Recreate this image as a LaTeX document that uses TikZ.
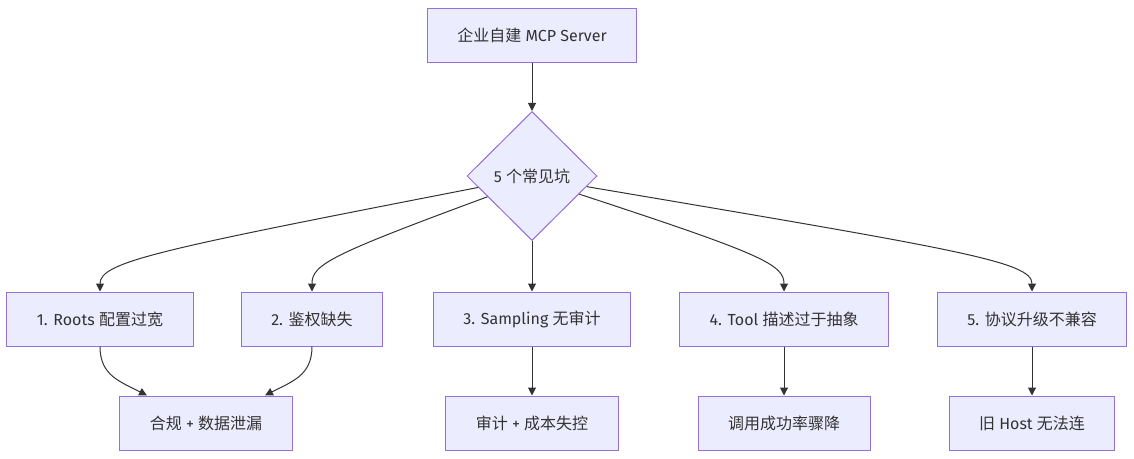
\documentclass[tikz,border=0pt]{standalone}
\usepackage{fontspec}
\setmainfont{Fira Sans}
\newfontfamily\cjk{Noto Sans CJK SC}
\usetikzlibrary{positioning, arrows.meta, shapes.geometric}
\definecolor{nodefill}{HTML}{ECECFF}
\definecolor{nodeline}{HTML}{9370DB}
\definecolor{edgeline}{HTML}{333333}

\begin{document}
\begin{tikzpicture}[x=1pt,y=-1pt,
  font=\fontsize{16}{19}\selectfont, text=edgeline,
  box/.style={draw=nodeline, fill=nodefill, line width=1pt, minimum height=54pt, inner xsep=30pt},
  pit/.style={diamond, draw=nodeline, fill=nodefill, line width=1pt, minimum width=130pt, minimum height=129pt, inner sep=0pt},
  link/.style={draw=edgeline, line width=1pt, -{Triangle[length=8pt,width=8pt]}}]
\useasboundingbox (0,0) rectangle (1134,458);
\node[box] (srv) at (532,35) {{\cjk 企业自建} MCP Server};
\node[pit] (dia) at (532,176) {5 {\cjk 个常见坑}};
\node[box] (b1) at (100,319) {1. Roots {\cjk 配置过宽}};
\node[box] (b2) at (312,319) {2. {\cjk 鉴权缺失}};
\node[box] (b3) at (532,319) {3. Sampling {\cjk 无审计}};
\node[box] (b4) at (784,319) {4. Tool {\cjk 描述过于抽象}};
\node[box] (b5) at (1032,319) {5. {\cjk 协议升级不兼容}};
\node[box] (c1) at (206,423) {{\cjk 合规} + {\cjk 数据泄漏}};
\node[box] (c2) at (532,423) {{\cjk 审计} + {\cjk 成本失控}};
\node[box] (c3) at (784,423) {\cjk 调用成功率骤降};
\node[box] (c4) at (1032,423) {{\cjk 旧} Host {\cjk 无法连}};
\draw[link] (srv) -- (dia);
\draw[link] (dia.192) .. controls +(-318,62) and +(0,-30) .. (b1.north);
\draw[link] (dia.205) .. controls +(-157,58) and +(0,-27) .. (b2.north);
\draw[link] (dia) -- (b3);
\draw[link] (dia.339) .. controls +(183,60) and +(0,-27) .. (b4.north);
\draw[link] (dia.349) .. controls +(372,63) and +(0,-30) .. (b5.north);
\draw[link] (b1.south) .. controls +(0,29) and +(-27,-14) .. ([xshift=-59pt]c1.north);
\draw[link] (b2.south) .. controls +(0,29) and +(27,-14) .. ([xshift=59pt]c1.north);
\draw[link] (b3) -- (c2);
\draw[link] (b4) -- (c3);
\draw[link] (b5) -- (c4);
\end{tikzpicture}
\end{document}
